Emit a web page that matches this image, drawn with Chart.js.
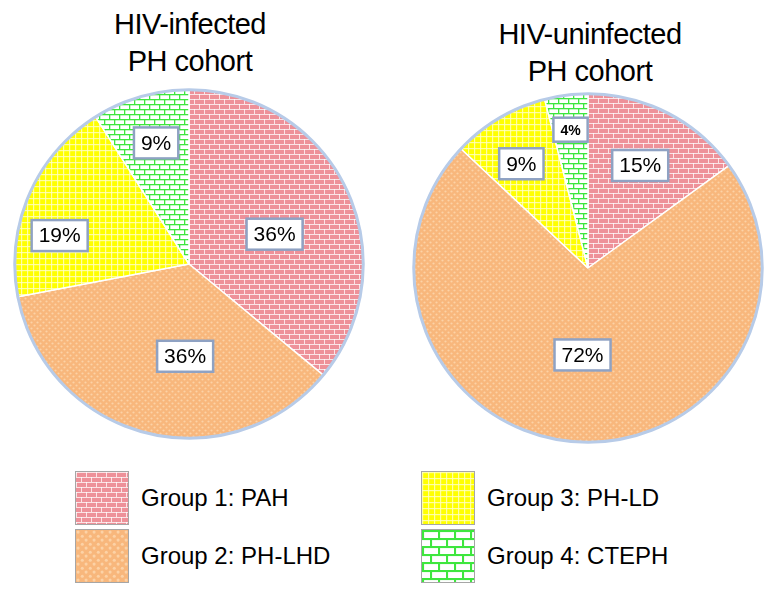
<!DOCTYPE html>
<html>
<head>
<meta charset="utf-8">
<script src="https://cdn.jsdelivr.net/npm/chart.js@4.4.1/dist/chart.umd.min.js"></script>
<style>
    body { margin:0; width:780px; height:598px; background:#fff; position:relative; overflow:hidden; font-family:'Liberation Sans', Arial, sans-serif; }
    .title { position:absolute; width:300px; text-align:center; font-family:'Liberation Sans', sans-serif; font-size:29px; line-height:37px; color:#000; letter-spacing:-0.5px; }
    .pie { position:absolute; width:360px; height:360px; }
    .leg { position:absolute; display:flex; align-items:center; font-size:24px; color:#000; }
    .leg canvas { border:1px solid #a6a6a6; margin-right:12px; }
</style>
</head>
<body>
<div class="title" style="left:40px; top:6px;">HIV-infected<br>PH cohort</div>
<div class="title" style="left:440px; top:16px;">HIV-uninfected<br>PH cohort</div>
<div class="pie" style="left:9px; top:84px;"><canvas id="pieLeft"></canvas></div>
<div class="pie" style="left:408px; top:88px;"><canvas id="pieRight"></canvas></div>
<div id="legend"></div>

<script>
// Datos
const groups = ['Group 1: PAH', 'Group 2: PH-LHD', 'Group 3: PH-LD', 'Group 4: CTEPH'];
const infectedPct = [36, 36, 19, 9];
const uninfectedPct = [15, 72, 9, 4];

// Patrones de relleno (ladrillo, ondas, rejilla, ladrillo verde)
function makePattern(kind, s) {
    s = s || 1;
    const c = document.createElement('canvas');
    const g = c.getContext('2d');
    if (kind === 'pah') {
        c.width = 10 * s; c.height = 10 * s;
        g.fillStyle = '#ee9199'; g.fillRect(0, 0, c.width, c.height);
        g.fillStyle = 'rgba(255,255,255,0.75)';
        g.fillRect(0, 0, c.width, s); g.fillRect(0, 5 * s, c.width, s);
        g.fillRect(0, 0, s, 5 * s); g.fillRect(5 * s, 5 * s, s, 5 * s);
    } else if (kind === 'lhd') {
        c.width = 6 * s; c.height = 6 * s;
        g.fillStyle = '#f8b77c'; g.fillRect(0, 0, c.width, c.height);
        g.fillStyle = '#fcd2a6';
        g.beginPath(); g.arc(1.5 * s, 1.5 * s, 1.1 * s, 0, Math.PI * 2); g.fill();
        g.beginPath(); g.arc(4.5 * s, 4.5 * s, 1.1 * s, 0, Math.PI * 2); g.fill();
    } else if (kind === 'ld') {
        c.width = 6 * s; c.height = 6 * s;
        g.fillStyle = '#ffff00'; g.fillRect(0, 0, c.width, c.height);
        g.fillStyle = 'rgba(255,255,200,0.8)';
        g.fillRect(0, 0, c.width, 1.2 * s); g.fillRect(0, 0, 1.2 * s, c.height);
    } else {
        c.width = 10 * s; c.height = 10 * s;
        g.fillStyle = '#ffffff'; g.fillRect(0, 0, c.width, c.height);
        g.fillStyle = '#3ee63e';
        g.fillRect(0, 0, c.width, 1.3 * s); g.fillRect(0, 5 * s, c.width, 1.3 * s);
        g.fillRect(0, 0, 1.3 * s, 5 * s); g.fillRect(5 * s, 5 * s, 1.3 * s, 5 * s);
    }
    return document.createElement('canvas').getContext('2d').createPattern(c, 'repeat');
}

const kinds = ['pah', 'lhd', 'ld', 'cteph'];
const fills = kinds.map(k => makePattern(k, 1));

// Cajas de porcentaje y contorno azul claro
const pieDecor = {
    id: 'pieDecor',
    afterDatasetsDraw(chart, args, opts) {
        const ctx = chart.ctx;
        const arcs = chart.getDatasetMeta(0).data;
        const first = arcs[0];
        ctx.save();
        ctx.beginPath();
        ctx.arc(first.x, first.y, first.outerRadius, 0, Math.PI * 2);
        ctx.strokeStyle = '#b7cbe8';
        ctx.lineWidth = 3;
        ctx.stroke();

        const values = chart.data.datasets[0].data;
        arcs.forEach((arc, i) => {
            const mid = (arc.startAngle + arc.endAngle) / 2 + (opts.shift[i] || 0) * Math.PI / 180;
            const r = arc.outerRadius * opts.radii[i];
            const x = arc.x + Math.cos(mid) * r;
            const y = arc.y + Math.sin(mid) * r;
            const small = values[i] < 5;
            const text = values[i] + '%';
            ctx.font = small ? 'bold 14px "Liberation Sans", Arial' : '21px "Liberation Sans", Arial';
            const w = ctx.measureText(text).width + 14;
            const h = small ? 24 : 31;
            ctx.fillStyle = '#fff';
            ctx.fillRect(x - w / 2, y - h / 2, w, h);
            ctx.strokeStyle = '#8fa2c3';
            ctx.lineWidth = 2.5;
            ctx.strokeRect(x - w / 2, y - h / 2, w, h);
            ctx.fillStyle = '#000';
            ctx.textAlign = 'center';
            ctx.textBaseline = 'middle';
            ctx.fillText(text, x, y + 1);
        });
        ctx.restore();
    }
};

function drawPie(id, values, radii, shift) {
    return new Chart(document.getElementById(id), {
        type: 'pie',
        data: {
            labels: groups,
            datasets: [{
                data: values,
                backgroundColor: fills,
                borderColor: '#ffffff',
                borderWidth: 1.5,
                hoverOffset: 0
            }]
        },
        options: {
            responsive: false,
            animation: false,
            layout: { padding: 5 },
            plugins: {
                legend: { display: false },
                tooltip: { enabled: false },
                pieDecor: { radii: radii, shift: shift }
            }
        },
        plugins: [pieDecor]
    });
}

function sizeCanvas(id) {
    const cv = document.getElementById(id);
    cv.width = 360; cv.height = 360;
    cv.style.width = '360px'; cv.style.height = '360px';
}
sizeCanvas('pieLeft');
sizeCanvas('pieRight');
drawPie('pieLeft', infectedPct, [0.52, 0.53, 0.76, 0.72], [6, -12, -11, 1]);
drawPie('pieRight', uninfectedPct, [0.66, 0.5, 0.71, 0.8], [0, 0, -2, 0]);

// Leyenda en dos columnas
const legendPos = [[75, 471], [75, 529], [421, 471], [421, 529]];
const legendScale = [1, 1.4, 1, 1.6];
const legend = document.getElementById('legend');
groups.forEach((name, i) => {
    const item = document.createElement('div');
    item.className = 'leg';
    item.style.left = legendPos[i][0] + 'px';
    item.style.top = legendPos[i][1] + 'px';
    const sw = document.createElement('canvas');
    sw.width = 52; sw.height = 52;
    const g = sw.getContext('2d');
    g.fillStyle = makePattern(kinds[i], legendScale[i]);
    g.fillRect(0, 0, 52, 52);
    item.appendChild(sw);
    const label = document.createElement('span');
    label.textContent = name;
    item.appendChild(label);
    legend.appendChild(item);
});
</script>
</body>
</html>
